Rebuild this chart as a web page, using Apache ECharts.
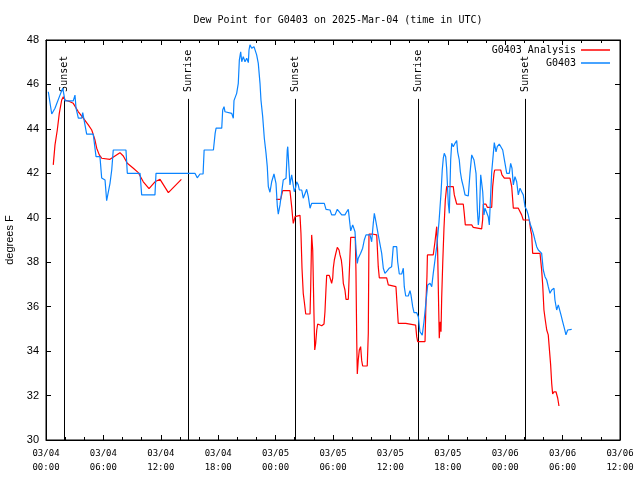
<!DOCTYPE html>
<html><head><meta charset="utf-8">
<script src="https://cdn.jsdelivr.net/npm/echarts@6/dist/echarts.min.js"></script>
<style>html,body{margin:0;padding:0;background:#fff}#c{width:640px;height:480px}</style>
</head><body><div id="c"></div>
<script>
// hours since 03/04 00:00 UTC
const xTickLabels = ['03/04\n00:00','03/04\n06:00','03/04\n12:00','03/04\n18:00','03/05\n00:00','03/05\n06:00','03/05\n12:00','03/05\n18:00','03/06\n00:00','03/06\n06:00','03/06\n12:00'];
const sunHours = [1.91, 14.88, 26.06, 38.85, 50.10];
const sunLabels = ['Sunset','Sunrise','Sunset','Sunrise','Sunset'];

const analysisData = [
[0.76,42.38],[0.94,43.28],[1.18,43.95],[1.39,44.70],[1.64,45.30],[1.81,45.45],[1.99,45.30],[2.51,45.22],[2.85,45.15],[3.38,44.77],[3.90,44.48],[4.42,44.18],[4.78,43.95],[5.12,43.50],[5.30,43.13],[5.57,42.83],[5.82,42.68],[6.69,42.63],[7.21,42.78],[7.73,42.93],[8.08,42.78],[8.50,42.45],[9.13,42.23],[9.65,42.03],[10.17,41.62],[10.77,41.31],[11.39,41.62],[11.92,41.73],[12.79,41.13],[14.15,41.73],
[19.00,null],
[24.04,40.83],[24.53,40.83],[24.74,41.22],[25.50,41.22],[25.68,40.50],[25.79,39.98],[25.85,39.75],[26.03,40.05],[26.13,40.11],[26.55,40.11],[26.65,39.30],[26.76,37.73],[26.89,36.60],[27.00,36.22],[27.15,35.67],[27.60,35.67],[27.67,36.90],[27.77,39.23],[27.88,38.55],[28.01,35.70],[28.09,34.05],[28.19,34.35],[28.30,34.95],[28.40,35.22],[28.82,35.14],[29.06,35.22],[29.16,35.77],[29.27,36.83],[29.34,37.41],[29.61,37.41],[29.76,37.20],[29.86,37.05],[29.97,37.28],[30.03,37.73],[30.14,38.10],[30.28,38.37],[30.45,38.67],[30.63,38.55],[30.73,38.33],[30.87,38.10],[30.97,37.73],[31.08,37.05],[31.25,36.75],[31.36,36.33],[31.60,36.33],[31.70,37.50],[31.85,39.12],[32.33,39.12],[32.40,37.57],[32.48,34.50],[32.54,32.97],[32.64,33.60],[32.75,34.05],[32.89,34.20],[33.00,33.57],[33.10,33.33],[33.58,33.33],[33.69,34.80],[33.76,39.26],[34.21,39.26],[34.57,39.23],[34.73,37.80],[34.84,37.30],[35.61,37.30],[35.78,36.98],[35.96,36.90],[36.58,36.90],[36.76,35.67],[36.82,35.25],[37.60,35.25],[37.70,35.20],[38.64,35.17],[38.75,34.65],[38.85,34.43],[39.62,34.43],[39.72,36.22],[39.82,37.35],[39.87,38.33],[40.48,38.33],[40.66,38.92],[40.84,39.60],[40.94,38.47],[41.05,35.85],[41.11,34.58],[41.21,35.32],[41.29,34.87],[41.36,36.38],[41.47,37.95],[41.60,39.53],[41.74,40.80],[41.88,41.40],[42.57,41.40],[42.68,41.03],[42.82,40.80],[42.93,40.61],[43.62,40.61],[43.72,40.20],[43.83,39.68],[44.50,39.68],[44.66,39.57],[44.84,39.50],[45.54,39.50],[45.64,39.90],[45.71,40.61],[45.99,40.61],[46.13,40.47],[46.59,40.47],[46.69,41.40],[46.83,42.00],[46.90,42.15],[47.53,42.15],[47.66,41.93],[47.91,41.78],[48.50,41.78],[48.68,41.40],[48.85,40.43],[49.37,40.43],[49.55,40.38],[49.72,40.13],[49.89,39.90],[50.52,39.90],[50.66,39.45],[50.77,39.23],[50.87,38.40],[51.64,38.40],[51.81,37.65],[51.92,36.98],[52.05,35.85],[52.19,35.40],[52.34,34.95],[52.50,34.73],[52.61,34.73],[52.75,33.38],[52.86,32.55],[52.96,32.07],[53.10,32.17],[53.31,32.17],[53.49,31.88],[53.62,31.53]
];

const g0403Data = [
[0.24,45.67],[0.60,44.67],[0.94,44.93],[1.46,45.52],[1.75,45.83],[1.99,45.26],[2.85,45.26],[3.03,45.52],[3.14,44.93],[3.38,44.48],[3.73,44.48],[3.84,44.73],[4.25,43.76],[4.94,43.76],[5.23,42.75],[5.64,42.75],[5.82,41.79],[6.17,41.70],[6.34,40.77],[6.51,40.77],[6.69,41.55],[6.87,42.15],[7.03,43.05],[8.36,43.05],[8.50,42.00],[9.83,42.00],[10.00,41.03],[11.39,41.03],[11.50,42.00],[15.57,42.00],[15.81,41.80],[16.10,41.97],[16.42,41.97],[16.53,43.05],[17.50,43.05],[17.68,43.80],[17.78,44.03],[18.37,44.03],[18.47,44.85],[18.61,45.00],[18.71,44.77],[19.41,44.70],[19.58,44.48],[19.65,45.27],[19.93,45.60],[20.10,46.05],[20.21,47.10],[20.35,47.47],[20.46,47.02],[20.62,47.25],[20.80,47.02],[20.98,47.18],[21.15,46.98],[21.22,47.55],[21.32,47.78],[21.50,47.63],[21.74,47.70],[21.85,47.78],[22.02,47.33],[22.19,46.95],[22.37,46.05],[22.47,45.30],[22.65,44.55],[22.82,43.58],[23.00,42.90],[23.13,42.30],
[23.24,41.40],[23.41,41.15],[23.59,41.62],[23.83,41.97],[24.04,41.55],[24.18,40.53],[24.28,40.16],[24.46,40.58],[24.64,41.17],[24.80,41.70],[25.09,41.78],[25.22,43.05],[25.27,43.20],[25.35,42.60],[25.50,41.48],[25.68,41.93],[25.85,41.85],[25.95,41.17],[26.10,41.37],[26.20,41.62],[26.37,41.48],[26.48,41.25],[26.73,41.25],[26.89,40.88],[27.07,40.80],[27.25,41.28],[27.42,40.95],[27.60,40.43],[27.77,40.65],[29.09,40.65],[29.27,40.38],[29.69,40.35],[29.86,40.13],[30.21,40.13],[30.45,40.38],[30.66,40.27],[30.91,40.13],[31.25,40.13],[31.43,40.27],[31.60,40.38],[31.78,39.68],[31.85,39.41],[32.06,39.68],[32.19,39.63],[32.30,39.37],[32.40,38.63],[32.54,37.95],[32.64,38.18],[32.89,38.40],[33.10,38.63],[33.27,39.00],[33.45,39.23],[33.87,39.23],[34.04,38.92],[34.21,39.75],[34.32,40.20],[34.49,39.82],[34.73,39.23],[34.91,39.15],[35.09,38.40],[35.26,37.73],[35.43,37.50],[35.68,37.62],[35.88,37.73],[36.13,37.80],[36.30,38.70],[36.66,38.70],[36.76,38.02],[36.93,37.47],[37.18,37.47],[37.35,37.73],[37.45,36.90],[37.60,36.48],[37.87,36.48],[38.05,36.72],[38.15,36.53],[38.33,36.00],[38.47,35.73],[38.75,35.73],[38.92,35.55],[38.99,35.25],[39.09,34.87],[39.33,34.72],[39.51,35.32],[39.72,36.22],[39.90,36.98],[40.14,37.05],[40.32,36.90],[40.48,37.50],[40.66,38.10],[40.84,38.70],[41.08,39.81],[41.18,40.43],
[41.29,41.10],[41.42,42.15],[41.53,42.68],[41.63,42.90],[41.78,42.75],[41.88,42.23],[42.05,40.65],[42.16,40.20],[42.30,42.60],[42.41,43.35],[42.57,43.20],[42.75,43.35],[42.93,43.47],[43.03,42.97],[43.20,42.60],[43.31,42.07],[43.45,41.70],[43.62,41.40],[43.80,41.03],[44.14,40.98],[44.32,42.00],[44.50,42.83],[44.60,42.87],[44.74,42.60],[44.95,42.00],[45.09,40.35],[45.19,39.68],[45.29,40.05],[45.44,41.93],[45.65,41.17],[45.78,40.13],[45.89,40.43],[46.07,40.50],[46.23,40.05],[46.34,39.68],[46.41,40.35],[46.59,42.07],[46.76,42.90],[46.86,43.38],[47.04,42.97],[47.17,43.20],[47.38,43.32],[47.56,43.32],[47.74,43.05],[47.98,42.45],[48.16,42.00],[48.26,41.93],[48.43,42.00],[48.57,42.45],[48.71,42.23],[48.85,41.48],[49.02,41.85],[49.20,41.62],[49.37,41.03],[49.55,41.33],[49.72,41.17],[49.89,41.03],[50.07,40.50],[50.25,40.35],[50.41,40.13],[50.59,39.75],[50.77,39.53],[50.94,39.30],[51.11,39.00],[51.29,38.70],[51.46,38.55],[51.64,38.52],[51.81,38.40],[51.98,37.65],[52.16,37.35],[52.34,37.20],[52.50,36.90],[52.68,36.60],[52.86,36.75],[53.10,36.83],[53.20,36.30],[53.38,35.85],[53.55,36.08],[53.73,36.08],[53.83,35.63],[54.01,35.32],[54.18,35.03],[54.35,34.73],[54.53,34.95],[54.95,34.98]
];

const yMin = 30, yMax = 48, sunLineTop = 45.35;
const mono = 'DejaVu Sans Mono';
const sans = 'Liberation Sans';

const chart = echarts.init(document.getElementById('c'), null, {renderer: 'canvas'});
const tickStyle = {color: '#000', width: 1};
function xAxisCfg(pos, showLabel) {
  return {
    type: 'value', min: 0, max: 60, interval: 6, position: pos,
    axisLine: {show: true, onZero: false, lineStyle: tickStyle},
    axisTick: {show: true, inside: true, length: 5, lineStyle: tickStyle},
    minorTick: {show: true, splitNumber: 3, length: 3, lineStyle: tickStyle},
    splitLine: {show: false}, minorSplitLine: {show: false},
    axisLabel: {show: showLabel, showMinLabel: true, showMaxLabel: true, hideOverlap: false,
      formatter: v => xTickLabels[Math.round(v / 6)],
      fontFamily: mono, fontSize: 9, color: '#000', lineHeight: 14, margin: 7}
  };
}
function yAxisCfg(pos, showLabel) {
  return {
    type: 'value', min: yMin, max: yMax, interval: 2, position: pos,
    axisLine: {show: true, onZero: false, lineStyle: tickStyle},
    axisTick: {show: true, inside: true, length: 5, lineStyle: tickStyle},
    splitLine: {show: false},
    axisLabel: {show: showLabel, fontFamily: sans, fontSize: 11, color: '#000', margin: 7}
  };
}
const yLeft = yAxisCfg('left', true);
yLeft.name = 'degrees F';
yLeft.nameLocation = 'middle';
yLeft.nameRotate = 90;
yLeft.nameGap = 31;
yLeft.nameTextStyle = {fontFamily: sans, fontSize: 11, color: '#000'};

const legendCommon = {
  orient: 'horizontal', align: 'right', padding: 0, itemWidth: 29, itemHeight: 1.5,
  icon: 'rect', selectedMode: false,
  textStyle: {fontFamily: mono, fontSize: 10, color: '#000'}
};

chart.setOption({
  animation: false,
  backgroundColor: '#fff',
  title: {
    text: 'Dew Point for G0403 on 2025-Mar-04 (time in UTC)',
    left: 333, top: 10, textAlign: 'center',
    textStyle: {fontFamily: mono, fontSize: 10, fontWeight: 'normal', color: '#000'}
  },
  legend: [
    Object.assign({data: ['G0403 Analysis'], right: 30, top: 45}, legendCommon),
    Object.assign({data: ['G0403'], right: 30, top: 58}, legendCommon)
  ],
  grid: {left: 46, right: 20, top: 40, bottom: 40, show: true, borderColor: '#000', borderWidth: 1,
    containLabel: false, outerBoundsMode: 'none'},
  xAxis: [xAxisCfg('bottom', true), xAxisCfg('top', false)],
  yAxis: [yLeft, yAxisCfg('right', false)],
  series: [
    {
      type: 'custom', xAxisIndex: 0, yAxisIndex: 0, silent: true, clip: false,
      data: sunHours.map((h, i) => [h, i]),
      renderItem: (params, api) => {
        const h = api.value(0);
        const b = api.coord([h, yMin]);
        const t = api.coord([h, sunLineTop]);
        const x = Math.round(b[0]) + 0.5;
        return {type: 'group', children: [
          {type: 'line', shape: {x1: x, y1: b[1], x2: x, y2: t[1]}, style: {stroke: '#000', lineWidth: 1}},
          {type: 'text', x: x, y: t[1] - 7, rotation: Math.PI / 2,
            style: {text: sunLabels[api.value(1)], font: '10px "' + mono + '"', fill: '#000', align: 'left', verticalAlign: 'middle'}}
        ]};
      }
    },
    {
      name: 'G0403 Analysis', type: 'line', xAxisIndex: 0, yAxisIndex: 0,
      data: analysisData, symbol: 'none', showSymbol: false, connectNulls: false,
      lineStyle: {color: '#ff0000', width: 1.2}, itemStyle: {color: '#ff0000'}
    },
    {
      name: 'G0403', type: 'line', xAxisIndex: 0, yAxisIndex: 0,
      data: g0403Data, symbol: 'none', showSymbol: false,
      lineStyle: {color: '#0a84ff', width: 1.2}, itemStyle: {color: '#0a84ff'}
    }
  ]
});
</script>
</body></html>
